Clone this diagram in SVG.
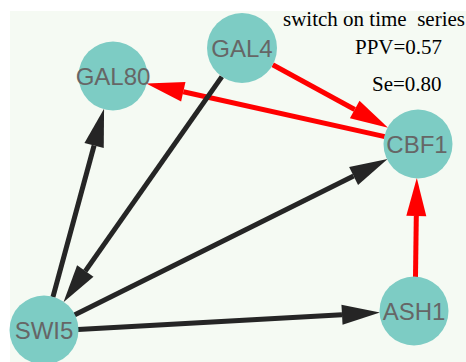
<svg xmlns="http://www.w3.org/2000/svg" width="466" height="362" viewBox="0 0 466 362">
<style>
.bg{fill:#f5faf3}
.node circle{fill:#7dccc4}
.node text{font-family:"Liberation Sans",Arial,sans-serif;font-size:24px;fill:#666;text-anchor:middle}
.e{stroke-width:5;fill:none}
.red{stroke:#ff0000}
.blk{stroke:#252525}
.lbl{font-family:"Liberation Serif","Times New Roman",serif;font-size:21px;fill:#000}
</style>
<defs>
<marker id="ar" markerUnits="userSpaceOnUse" markerWidth="40" markerHeight="22" refX="0" refY="10" orient="auto" overflow="visible"><path d="M0,0 L38,10 L0,20 Z" fill="#ff0000"/></marker>
<marker id="ab" markerUnits="userSpaceOnUse" markerWidth="40" markerHeight="22" refX="0" refY="10" orient="auto" overflow="visible"><path d="M0,0 L38,10 L0,20 Z" fill="#252525"/></marker>
</defs>
<rect class="bg" x="10" y="11" width="456" height="351"/>
<g id="edges">
<line class="e red" x1="272.7" y1="64.8" x2="354.7" y2="109.5" marker-end="url(#ar)"/>
<line class="e red" x1="384.8" y1="136.6" x2="183.3" y2="91.7" marker-end="url(#ar)"/>
<line class="e red" x1="415.5" y1="277" x2="416.3" y2="216" marker-end="url(#ar)"/>
<line class="e blk" x1="52.9" y1="297.2" x2="94.1" y2="145.5" marker-end="url(#ab)"/>
<line class="e blk" x1="221.9" y1="76.6" x2="85.3" y2="271.1" marker-end="url(#ab)"/>
<line class="e blk" x1="74.4" y1="314.9" x2="353.6" y2="176" marker-end="url(#ab)"/>
<line class="e blk" x1="78" y1="329.5" x2="342" y2="314.7" marker-end="url(#ab)"/>
</g>
<g id="GAL4" class="node"><circle cx="242" cy="48" r="35"/><text x="242" y="57">GAL4</text></g>
<g id="GAL80" class="node"><circle cx="113" cy="76" r="34.5"/><text x="113" y="84.5">GAL80</text></g>
<g id="CBF1" class="node"><circle cx="418" cy="144" r="34.5"/><text x="417" y="152.5">CBF1</text></g>
<g id="SWI5" class="node"><circle cx="44" cy="330" r="34.5"/><text x="44" y="338.5">SWI5</text></g>
<g id="ASH1" class="node"><circle cx="414" cy="311" r="34.5"/><text x="414" y="319.5">ASH1</text></g>
<text class="lbl" x="283" y="26" xml:space="preserve">switch on time  series</text>
<text class="lbl" x="355" y="54">PPV=0.57</text>
<text class="lbl" x="372" y="91">Se=0.80</text>
</svg>
